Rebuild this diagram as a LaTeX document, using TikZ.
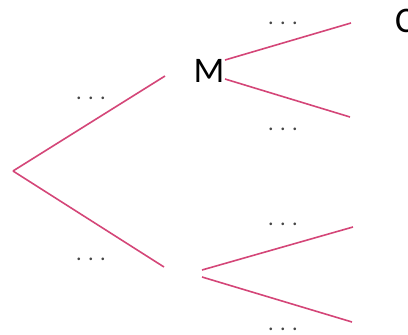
\documentclass[tikz,border=0pt]{standalone}
\usepackage{fontspec}
\setmainfont{Carlito}
\usepackage{xcolor}
\usetikzlibrary{positioning}
\definecolor{branchpink}{RGB}{212,70,120}
\definecolor{dotgray}{RGB}{70,70,70}
\newcommand{\threedots}{.\kern6.5pt.\kern6.5pt.}

\begin{document}
\begin{tikzpicture}[
  x=1pt, y=-1pt,
  branch/.style={draw=branchpink, line width=1.6pt},
  prob/.style={text=dotgray, font=\fontsize{22}{24}\selectfont, inner sep=0pt},
  event/.style={font=\fontsize{36}{40}\selectfont, inner sep=0pt}
]
\useasboundingbox (0,0) rectangle (408,335);
\clip (0,0) rectangle (408,335);
% first stage
\coordinate (root) at (13,171);
\coordinate (up) at (165,76);
\coordinate (down) at (164,267);
\draw[branch] (root) -- (up);
\draw[branch] (root) -- (down);
\node[prob] (pup) at (91,98) {\threedots};
\node[prob] (pdown) at (91,259) {\threedots};
% second stage, upper
\node[event] (M) at (209,71) {M};
\coordinate (mupend) at (351,23);
\coordinate (mdownend) at (350,117);
\draw[branch] (225,60) -- (mupend);
\draw[branch] (225,79) -- (mdownend);
\node[prob] (pmup) at (283,23) {\threedots};
\node[prob] (pmdown) at (283,129) {\threedots};
\node[event, anchor=west] (C) at (395,21) {C};
% second stage, lower
\coordinate (lo) at (202,273);
\coordinate (loupend) at (353,227);
\coordinate (lodownend) at (352,322);
\draw[branch] ([yshift=3pt]lo) -- (loupend);
\draw[branch] ([yshift=-4pt]lo) -- (lodownend);
\node[prob] (plup) at (283,224) {\threedots};
\node[prob] (pldown) at (283,329) {\threedots};
\end{tikzpicture}
\end{document}
